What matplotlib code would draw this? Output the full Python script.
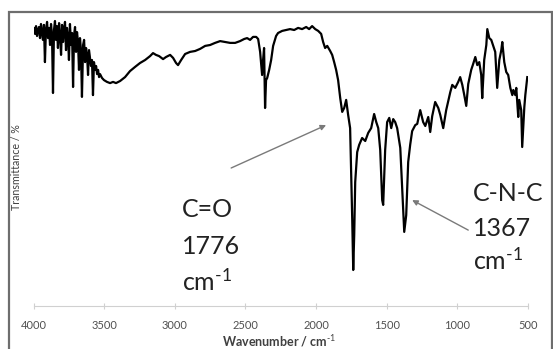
import matplotlib
matplotlib.use("Agg")
import matplotlib.pyplot as plt
from matplotlib.patches import Rectangle

plt.rcParams['font.family'] = ['Lato', 'DejaVu Sans']
plt.rcParams['mathtext.fontset'] = 'custom'
plt.rcParams['mathtext.rm'] = 'Lato'
plt.rcParams['mathtext.it'] = 'Lato:italic'
plt.rcParams['mathtext.bf'] = 'Lato:bold'

# ---- data (wavenumber cm-1, transmittance a.u.) ----
wavenumber = [4000, 3996, 3989, 3982, 3975, 3968, 3961, 3954, 3947, 3940, 3933, 3926, 3919, 3912,
              3904, 3897, 3890, 3883, 3876, 3869, 3862, 3855, 3848, 3841, 3834, 3827, 3819, 3812,
              3805, 3798, 3791, 3784, 3777, 3770, 3763, 3756, 3749, 3742, 3734, 3727, 3720, 3713,
              3706, 3699, 3692, 3685, 3678, 3671, 3664, 3657, 3649, 3642, 3635, 3628, 3621, 3614,
              3607, 3600, 3593, 3586, 3579, 3572, 3564, 3557, 3550, 3543, 3536, 3529, 3515, 3501,
              3480, 3458, 3437, 3416, 3387, 3352, 3317, 3281, 3246, 3210, 3175, 3154, 3133, 3111,
              3083, 3062, 3033, 3012, 2991, 2977, 2955, 2927, 2892, 2856, 2821, 2785, 2750, 2715,
              2679, 2644, 2608, 2573, 2538, 2509, 2488, 2467, 2446, 2424, 2410, 2396, 2382, 2375,
              2368, 2361, 2354, 2346, 2332, 2318, 2304, 2283, 2269, 2240, 2212, 2184, 2155, 2127,
              2099, 2070, 2049, 2028, 2006, 1985, 1964, 1950, 1936, 1921, 1900, 1886, 1872, 1858,
              1844, 1829, 1815, 1801, 1787, 1773, 1759, 1744, 1737, 1730, 1723, 1709, 1695, 1674,
              1652, 1631, 1610, 1589, 1574, 1560, 1546, 1532, 1525, 1511, 1497, 1482, 1468, 1454,
              1440, 1426, 1404, 1390, 1376, 1362, 1348, 1334, 1320, 1298, 1284, 1263, 1242, 1227,
              1206, 1192, 1178, 1157, 1135, 1121, 1100, 1079, 1050, 1036, 1015, 994, 980, 965,
              951, 937, 923, 902, 888, 873, 859, 845, 831, 824, 810, 795, 788, 774,
              760, 746, 732, 718, 703, 689, 682, 668, 654, 640, 625, 611, 604, 590,
              583, 569, 562, 548, 541, 533, 526, 519, 505]
transmittance = [91.3, 92.7, 90.7, 93.3, 90.0, 92.0, 93.0, 89.3, 94.0, 91.0, 88.7, 93.7, 81.3, 92.0,
                 94.7, 89.3, 92.7, 87.0, 94.0, 90.3, 71.0, 92.0, 95.0, 88.7, 93.3, 86.0, 94.3, 90.0,
                 83.7, 93.7, 88.0, 92.0, 94.7, 85.3, 92.7, 89.7, 82.0, 94.0, 87.0, 91.0, 73.0, 90.3,
                 93.0, 84.7, 91.3, 88.0, 78.7, 89.3, 85.3, 69.7, 87.0, 88.7, 81.3, 86.0, 83.7, 77.0,
                 85.3, 82.7, 80.0, 82.0, 70.3, 81.3, 78.7, 80.0, 77.3, 78.7, 76.3, 77.3, 76.0, 75.3,
                 74.7, 74.3, 74.7, 74.3, 75.0, 76.3, 78.3, 79.7, 81.0, 82.0, 83.3, 84.3, 83.7, 83.3,
                 82.3, 83.0, 83.7, 82.7, 81.0, 80.3, 82.0, 84.0, 84.7, 85.0, 85.7, 86.7, 87.0, 87.7,
                 88.3, 88.0, 87.7, 87.7, 88.3, 89.0, 89.3, 88.7, 89.7, 89.7, 89.0, 84.7, 77.0, 82.0,
                 86.0, 66.0, 75.3, 76.0, 78.7, 82.0, 86.7, 90.0, 91.0, 91.7, 92.0, 92.3, 92.0, 92.7,
                 92.3, 93.0, 92.3, 93.3, 92.3, 91.7, 90.7, 88.0, 86.0, 86.7, 85.0, 83.7, 81.3, 78.7,
                 75.3, 69.3, 64.7, 66.0, 68.7, 63.7, 59.3, 28.7, 12.0, 23.7, 41.3, 51.3, 53.7, 56.0,
                 55.0, 57.7, 59.3, 64.0, 61.3, 59.3, 52.0, 35.3, 33.7, 52.0, 61.3, 62.7, 59.3, 62.3,
                 61.3, 59.3, 52.7, 38.7, 24.7, 30.3, 48.0, 53.7, 58.3, 60.3, 60.7, 65.3, 61.3, 60.0,
                 63.0, 58.0, 63.3, 68.0, 66.0, 63.7, 59.3, 65.3, 71.3, 73.7, 72.7, 74.7, 76.3, 73.7,
                 70.3, 66.7, 74.0, 78.7, 80.7, 83.0, 80.3, 81.3, 77.0, 69.3, 82.0, 87.0, 92.3, 89.3,
                 88.7, 86.7, 84.7, 72.7, 82.0, 85.3, 88.0, 81.3, 78.0, 77.0, 72.7, 70.3, 72.0, 70.3,
                 72.7, 63.0, 68.7, 65.3, 53.0, 60.3, 66.3, 70.3, 76.3]

x_ticks = [4000, 3500, 3000, 2500, 2000, 1500, 1000, 500]
x_label = r"Wavenumber / cm$^{\text{-1}}$"
y_label = "Transmittance / %"

co_lines = ["C=O", "1776", r"cm$^{\text{-1}}$"]
co_text_x = 2948
co_text_y = [29.7, 17.3, 5.0]
co_arrow_from = (2601, 46.0)
co_arrow_to = (1929, 60.3)

cnc_lines = ["C-N-C", "1367", r"cm$^{\text{-1}}$"]
cnc_text_x = 888
cnc_text_y = [35.0, 23.3, 12.3]
cnc_arrow_from = (923, 25.3)
cnc_arrow_to = (1320, 35.3)

# ---- figure ----
W, H = 553, 349
fig = plt.figure(figsize=(W / 100, H / 100), dpi=100)
fig.patch.set_facecolor('white')

# outer frame
fig.patches.append(Rectangle((8.5 / W, -0.05), (552 - 8.5) / W, 1 - 11.5 / H + 0.05,
                             transform=fig.transFigure, fill=False,
                             edgecolor='#6e6e6e', linewidth=1.6, zorder=0))

ax = fig.add_axes([33.5 / W, 1 - 306 / H, (528 - 33.5) / W, (306 - 15) / H])
ax.plot(wavenumber, transmittance, color='black', linewidth=1.6, solid_joinstyle='round')
ax.set_xlim(4000, 500)
ax.set_ylim(0, 97)
ax.set_xticks(x_ticks)
ax.set_xticklabels([str(t) for t in x_ticks])
ax.set_yticks([])
for s in ['top', 'right', 'left']:
    ax.spines[s].set_visible(False)
ax.spines['bottom'].set_color('#d0d0d0')
ax.spines['bottom'].set_linewidth(0.8)
ax.tick_params(axis='x', direction='inout', length=4, width=0.8, color='#d0d0d0',
               labelsize=8, labelcolor='#505050', pad=8)
ax.patch.set_alpha(0)

fig.text(279 / W, 1 - 341 / H, x_label, ha='center', va='center', fontsize=9,
         fontweight='bold', color='#404040')
fig.text(17 / W, 1 - 167 / H, y_label, ha='center', va='center', rotation=90,
         fontsize=7.7, color='#404040')

for txt, yy in zip(co_lines, co_text_y):
    ax.text(co_text_x, yy, txt, ha='left', va='baseline', fontsize=18, color='#222222')
for txt, yy in zip(cnc_lines, cnc_text_y):
    ax.text(cnc_text_x, yy, txt, ha='left', va='baseline', fontsize=18, color='#222222')

arrow_style = dict(arrowstyle='-|>', color='#7a7a7a', lw=1.0, mutation_scale=8,
                   shrinkA=0, shrinkB=0)
ax.annotate('', xy=co_arrow_to, xytext=co_arrow_from, arrowprops=arrow_style)
ax.annotate('', xy=cnc_arrow_to, xytext=cnc_arrow_from, arrowprops=arrow_style)

fig.savefig('out.png', dpi=100)
